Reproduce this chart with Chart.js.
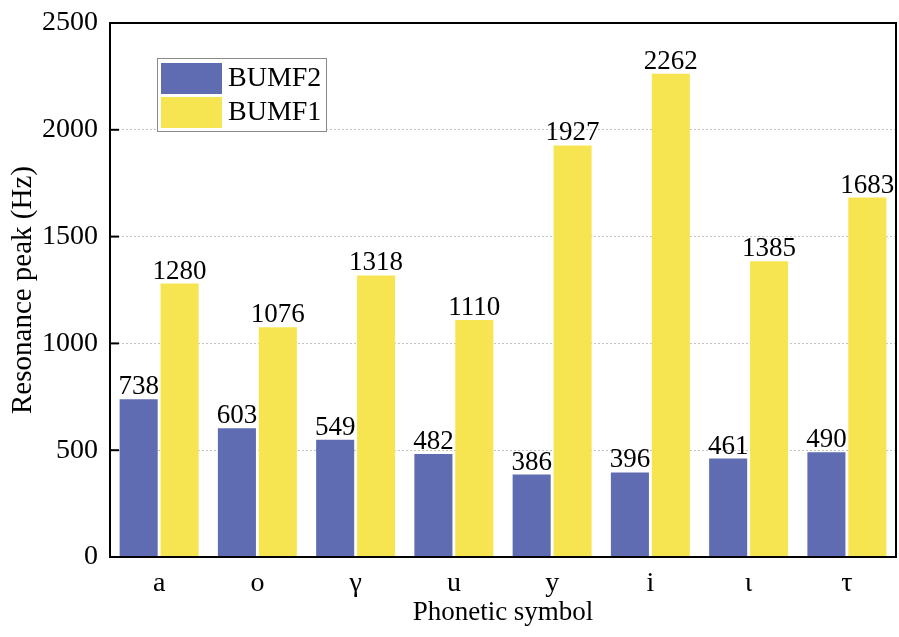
<!DOCTYPE html>
<html>
<head>
<meta charset="utf-8">
<script src="https://cdn.jsdelivr.net/npm/chart.js@4/dist/chart.umd.min.js"></script>
<style>
  html, body { margin: 0; padding: 0; background: #ffffff; }
  #wrap { width: 899px; height: 637px; }
</style>
</head>
<body>
<div id="wrap"><canvas id="c" width="899" height="637"></canvas></div>
<script>
const categories = ['a', 'o', 'γ', 'u', 'y', 'i', 'ι', 'τ'];
const bumf2 = [738, 603, 549, 482, 386, 396, 461, 490];
const bumf1 = [1280, 1076, 1318, 1110, 1927, 2262, 1385, 1683];
const yTicks = [0, 500, 1000, 1500, 2000, 2500];

const FONT = "'Liberation Serif', 'Times New Roman', serif";
const BLUE = '#5f6cb2';
const YELLOW = '#f7e451';

const framePlugin = {
  id: 'frame',
  afterDatasetsDraw(chart) {
    const ctx = chart.ctx;
    const a = chart.chartArea;
    const y = chart.scales.y;
    ctx.save();
    ctx.strokeStyle = '#000';
    ctx.lineWidth = 2;
    ctx.strokeRect(a.left, a.top, a.right - a.left, a.bottom - a.top);
    // inward ticks on left axis
    yTicks.forEach(v => {
      const py = y.getPixelForValue(v);
      ctx.beginPath();
      ctx.moveTo(a.left, py);
      ctx.lineTo(a.left + 9, py);
      ctx.stroke();
    });
    // value labels
    ctx.fillStyle = '#000';
    ctx.font = '27px ' + FONT;
    ctx.textAlign = 'center';
    ctx.textBaseline = 'alphabetic';
    chart.data.datasets.forEach((ds, di) => {
      const meta = chart.getDatasetMeta(di);
      meta.data.forEach((bar, i) => {
        ctx.fillText(String(ds.data[i]), bar.x, bar.y - 5);
      });
    });
    // legend (inside plot area)
    const lx = a.left + 47, ly = a.top + 35;
    ctx.lineWidth = 1;
    ctx.strokeStyle = '#8a8a8a';
    ctx.fillStyle = '#fff';
    ctx.fillRect(lx, ly, 169, 73);
    ctx.strokeRect(lx + 0.5, ly + 0.5, 169, 73);
    [0, 1].forEach((di, k) => {
      const ds = chart.data.datasets[di];
      const sy = ly + 5 + k * 34;
      ctx.fillStyle = ds.backgroundColor;
      ctx.fillRect(lx + 4, sy, 61, 31);
      ctx.fillStyle = '#000';
      ctx.textAlign = 'left';
      ctx.textBaseline = 'middle';
      ctx.font = '28px ' + FONT;
      ctx.fillText(ds.label, lx + 71, sy + 16);
    });
    ctx.restore();
  }
};

new Chart(document.getElementById('c'), {
  type: 'bar',
  data: {
    labels: categories,
    datasets: [
      { label: 'BUMF2', data: bumf2, backgroundColor: BLUE, borderWidth: 0 },
      { label: 'BUMF1', data: bumf1, backgroundColor: YELLOW, borderWidth: 0 }
    ]
  },
  options: {
    responsive: false,
    animation: false,
    devicePixelRatio: 1,
    layout: { padding: { top: 23, right: 3, left: 0, bottom: 0 } },
    categoryPercentage: 0.833,
    barPercentage: 0.93,
    plugins: {
      legend: { display: false },
      tooltip: { enabled: false }
    },
    scales: {
      x: {
        grid: { display: false, drawTicks: false },
        border: { display: false },
        ticks: { color: '#000', font: { family: FONT, size: 28 }, padding: 10 },
        title: {
          display: true, text: 'Phonetic symbol', color: '#000',
          font: { family: FONT, size: 27 }, padding: { top: 0, bottom: 8 }
        },
        afterFit(scale) { scale.height = 80; scale.paddingLeft = 0; scale.paddingRight = 0; }
      },
      y: {
        min: 0, max: 2500,
        afterBuildTicks(scale) { scale.ticks = yTicks.map(v => ({ value: v })); },
        grid: {
          color: ctx => (ctx.tick && (ctx.tick.value === 0 || ctx.tick.value === 2500)) ? 'rgba(0,0,0,0)' : '#c4c4c4',
          lineWidth: 1, drawTicks: false
        },
        border: { display: false, dash: [2, 2] },
        ticks: {
          color: '#000', font: { family: FONT, size: 28 }, padding: 12,
          callback: v => String(v)
        },
        title: {
          display: true, text: 'Resonance peak (Hz)', color: '#000',
          font: { family: FONT, size: 29 }, padding: { top: 6, bottom: 0 }
        },
        afterFit(scale) { scale.width = 110; scale.paddingTop = 0; scale.paddingBottom = 0; }
      }
    }
  },
  plugins: [framePlugin]
});
</script>
</body>
</html>
